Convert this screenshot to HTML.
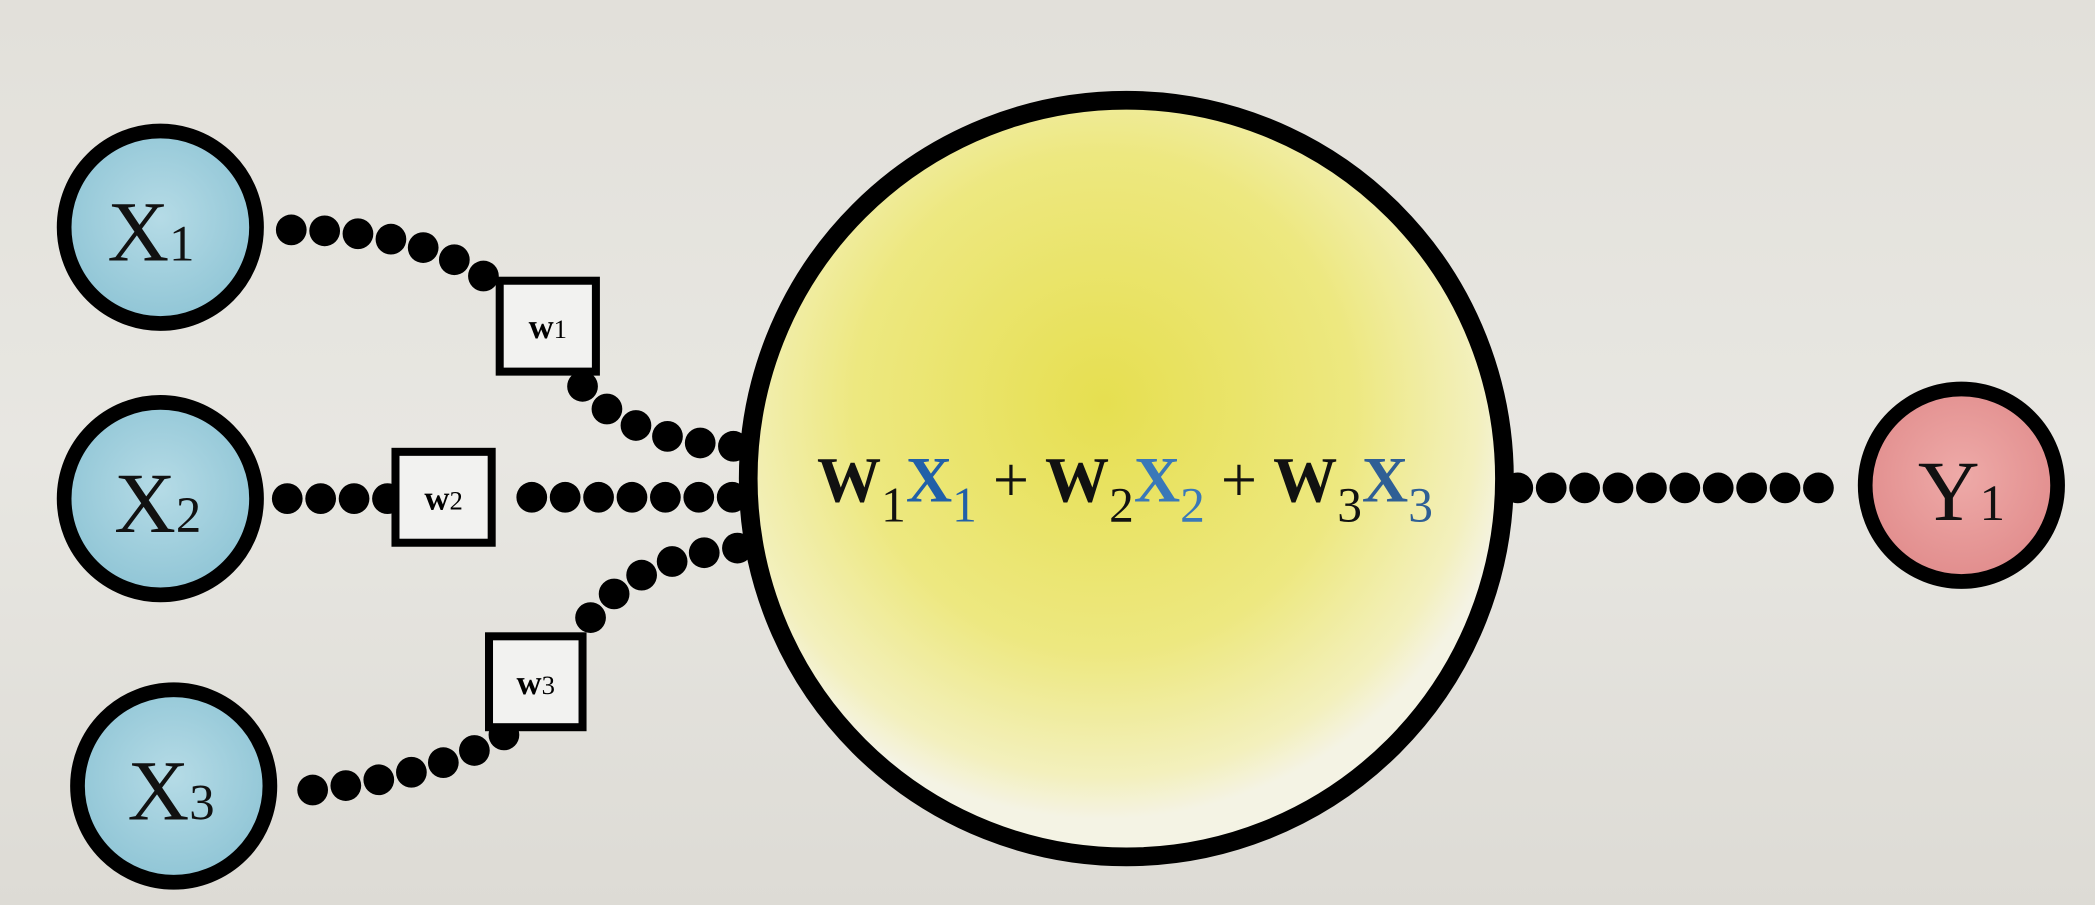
<!DOCTYPE html>
<html><head><meta charset="utf-8"><style>
html,body{margin:0;padding:0;width:2095px;height:905px;overflow:hidden;background:#e4e2dc}
svg{display:block}
</style></head><body>
<svg width="2095" height="905" viewBox="0 0 1568 677" preserveAspectRatio="none" xmlns="http://www.w3.org/2000/svg">
<defs>
<linearGradient id="bg" x1="0" y1="0" x2="0" y2="1"><stop offset="0" stop-color="#e2e0da"/><stop offset="0.5" stop-color="#e8e7e2"/><stop offset="1" stop-color="#dddbd5"/></linearGradient>
<radialGradient id="blue" cx="0.5" cy="0.45" r="0.6"><stop offset="0" stop-color="#b5dbe6"/><stop offset="1" stop-color="#8cc3d4"/></radialGradient>
<radialGradient id="red" cx="0.5" cy="0.45" r="0.6"><stop offset="0" stop-color="#eeaaa8"/><stop offset="1" stop-color="#e08a8a"/></radialGradient>
<radialGradient id="yel" cx="0.47" cy="0.4" r="0.55"><stop offset="0" stop-color="#e6df50"/><stop offset="0.6" stop-color="#ede880"/><stop offset="0.9" stop-color="#f3f0bd"/><stop offset="1" stop-color="#f4f3e4"/></radialGradient>
</defs>
<rect width="1568" height="677" fill="url(#bg)"/>
<g fill="none" stroke="#000" stroke-width="23" stroke-linecap="round" stroke-dasharray="0 25">
<path d="M218,172 Q320,172 372,214"/>
<path d="M436,289 Q470,330 552,334"/>
<path d="M215,373 L296,373"/>
<path d="M398,372 L552,372"/>
<path d="M234,591 Q330,580 380,548"/>
<path d="M442,462 Q480,416 552,410"/>
<path d="M1136,365 L1372,365"/>
</g>
<g font-family="Liberation Serif, serif" font-weight="bold" font-size="26" text-anchor="middle">
<g><rect x="374" y="210" width="72" height="68" fill="#f2f2f0" stroke="#000" stroke-width="6"/><text x="410" y="253">w<tspan font-size="20" font-weight="normal">1</tspan></text></g>
<g><rect x="296" y="338" width="72" height="68" fill="#f2f2f0" stroke="#000" stroke-width="6"/><text x="332" y="381">w<tspan font-size="20" font-weight="normal">2</tspan></text></g>
<g><rect x="366" y="476" width="70" height="68" fill="#f2f2f0" stroke="#000" stroke-width="6"/><text x="401" y="519">w<tspan font-size="20" font-weight="normal">3</tspan></text></g>
</g>
<g stroke="#000" stroke-width="11" font-family="Liberation Serif, serif">
<g><circle cx="120" cy="170" r="72" fill="url(#blue)"/><text x="113" y="195" font-size="64" stroke="none" fill="#111" text-anchor="middle">X<tspan font-size="38">1</tspan></text></g>
<g><circle cx="120" cy="373" r="72" fill="url(#blue)"/><text x="118" y="398" font-size="64" stroke="none" fill="#111" text-anchor="middle">X<tspan font-size="38">2</tspan></text></g>
<g><circle cx="130" cy="588" r="72" fill="url(#blue)"/><text x="128" y="613" font-size="64" stroke="none" fill="#111" text-anchor="middle">X<tspan font-size="38">3</tspan></text></g>
<g><circle cx="1468" cy="363" r="72" fill="url(#red)"/><text x="1468" y="389" font-size="64" stroke="none" fill="#111" text-anchor="middle">Y<tspan font-size="38">1</tspan></text></g>
<g><circle cx="843" cy="358" r="283" fill="url(#yel)" stroke-width="14"/></g>
</g>
<text x="842" y="375" font-family="Liberation Serif, serif" font-weight="bold" font-size="48" text-anchor="middle" fill="#111">W<tspan font-size="37" font-weight="normal" dy="15">1</tspan><tspan fill="#2160a8" dy="-15">X</tspan><tspan fill="#2160a8" font-size="37" font-weight="normal" dy="15">1</tspan><tspan font-weight="normal" dy="-15"> + </tspan>W<tspan font-size="37" font-weight="normal" dy="15">2</tspan><tspan fill="#3a78b8" dy="-15">X</tspan><tspan fill="#3a78b8" font-size="37" font-weight="normal" dy="15">2</tspan><tspan font-weight="normal" dy="-15"> + </tspan>W<tspan font-size="37" font-weight="normal" dy="15">3</tspan><tspan fill="#2f5f95" dy="-15">X</tspan><tspan fill="#2f5f95" font-size="37" font-weight="normal" dy="15">3</tspan></text>
</svg>
</body></html>
